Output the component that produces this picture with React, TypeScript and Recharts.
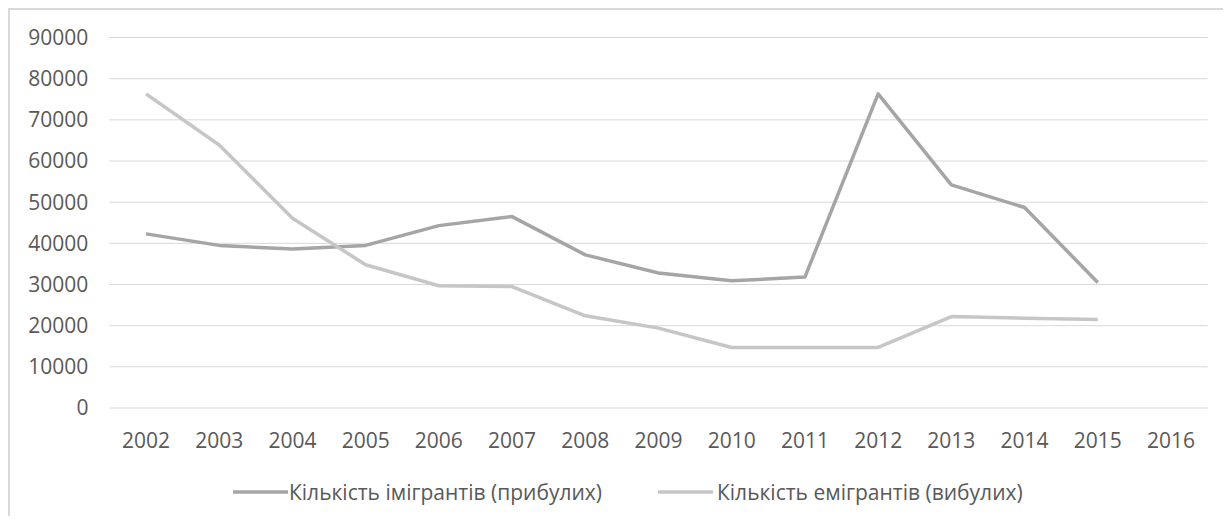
import React from 'react';
import { LineChart, Line, XAxis, YAxis, CartesianGrid, Legend } from 'recharts';

const YEARS = ['2002', '2003', '2004', '2005', '2006', '2007', '2008', '2009', '2010', '2011', '2012', '2013', '2014', '2015', '2016'];
const IMMIGRANTS = [42300, 39500, 38600, 39500, 44300, 46500, 37200, 32800, 30900, 31800, 76300, 54200, 48700, 30500, null];
const EMIGRANTS = [76300, 63900, 46100, 34800, 29700, 29500, 22400, 19400, 14700, 14700, 14700, 22200, 21800, 21500, null];
const Y_TICKS = [0, 10000, 20000, 30000, 40000, 50000, 60000, 70000, 80000, 90000];

const SERIES = [
    { key: 'immigrants', name: 'Кількість імігрантів (прибулих)', color: '#a5a5a5' },
    { key: 'emigrants', name: 'Кількість емігрантів (вибулих)', color: '#c6c6c6' },
];

const data = YEARS.map((year, i) => ({
    year,
    immigrants: IMMIGRANTS[i],
    emigrants: EMIGRANTS[i],
}));

const FONT = '"Open Sans", "Noto Sans", sans-serif';
const TEXT = '#595959';

// legend item left edges, chart coords
const LEGEND_X = [223, 648];

const renderLegend = () => (
    <div style={{ position: 'relative', height: 48, fontFamily: FONT, fontSize: 21, color: TEXT }}>
        {SERIES.map((s, i) => (
            <div
                key={s.key}
                style={{ position: 'absolute', left: LEGEND_X[i], top: 0, height: 48, display: 'flex', alignItems: 'center', whiteSpace: 'nowrap' }}
            >
                <svg width={55} height={8} style={{ display: 'block' }}>
                    <line x1={1} y1={4} x2={54} y2={4} stroke={s.color} strokeWidth={3.5} strokeLinecap="round" />
                </svg>
                <span style={{ marginLeft: i === 0 ? 1 : 4, lineHeight: '24px' }}>{s.name}</span>
            </div>
        ))}
    </div>
);

const App: React.FC = () => {
    return (
        <div
            style={{
                width: 1223,
                height: 508,
                boxSizing: 'border-box',
                borderLeft: '2px solid #d9d9d9',
                borderTop: '2px solid #d9d9d9',
                overflow: 'hidden',
                background: '#fff',
            }}
        >
            <LineChart width={1221} height={506} data={data} margin={{ top: 27.5, right: 23.4, bottom: 0, left: 0 }}>
                <CartesianGrid vertical={false} stroke="#d9d9d9" strokeWidth={1} />
                <XAxis
                    dataKey="year"
                    height={60}
                    padding={{ left: 36.6, right: 36.6 }}
                    axisLine={false}
                    tickLine={false}
                    tickSize={0}
                    tickMargin={25}
                    interval={0}
                    tick={{ fontFamily: FONT, fontSize: 21, fill: TEXT }}
                />
                <YAxis
                    width={99.4}
                    domain={[0, 90000]}
                    ticks={Y_TICKS}
                    axisLine={false}
                    tickLine={false}
                    tickSize={0}
                    tickMargin={21}
                    interval={0}
                    tick={{ fontFamily: FONT, fontSize: 21, fill: TEXT }}
                />
                {SERIES.map((s) => (
                    <Line
                        key={s.key}
                        type="linear"
                        dataKey={s.key}
                        name={s.name}
                        stroke={s.color}
                        strokeWidth={3.5}
                        strokeLinejoin="round"
                        dot={false}
                        activeDot={false}
                        isAnimationActive={false}
                    />
                ))}
                <Legend verticalAlign="bottom" height={48} content={renderLegend} wrapperStyle={{ left: 0, width: 1221 }} />
            </LineChart>
        </div>
    );
};

export default App;
